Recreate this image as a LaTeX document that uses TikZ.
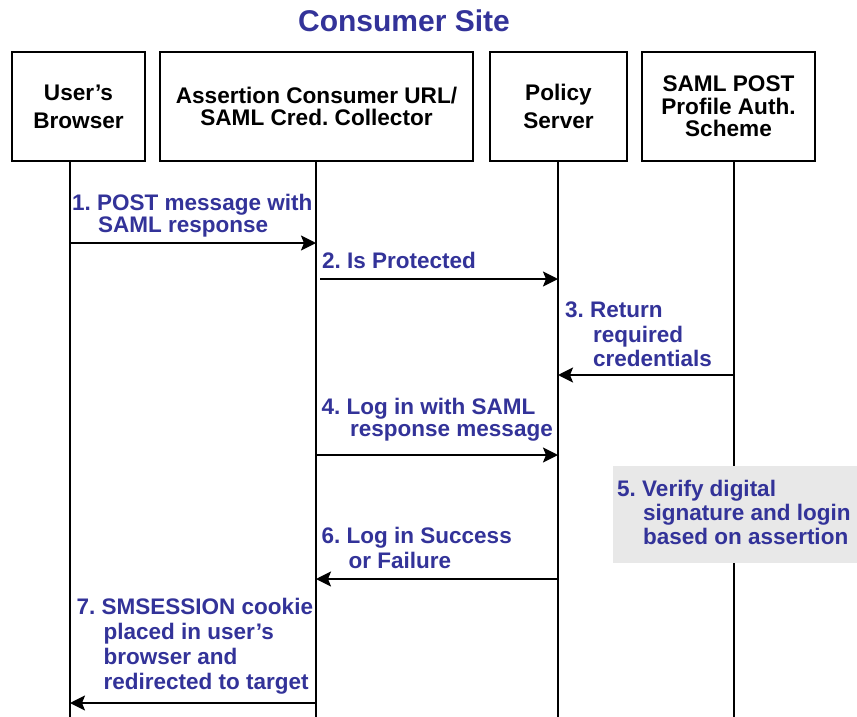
\documentclass[tikz,border=0pt]{standalone}
\usepackage{fontspec}
\setmainfont{Liberation Sans}
\usetikzlibrary{arrows.meta}
\definecolor{lblblue}{RGB}{51,51,153}
\definecolor{notegray}{RGB}{232,232,232}
\frenchspacing
\begin{document}
\begin{tikzpicture}[x=1pt,y=-1pt,
  actor/.style={draw, line width=1.8pt, inner sep=0pt, minimum height=109pt, align=center},
  life/.style={line width=1.6pt},
  msg/.style={line width=2pt, -{Stealth[length=15pt,width=15pt,inset=3pt]}},
  lbl/.style={anchor=base west, inner sep=0pt, align=left, text=lblblue},
  lblfont/.style={font=\bfseries\fontsize{22.5}{#1}\selectfont},
  boxfont/.style={font=\bfseries\fontsize{22.6}{#1}\selectfont}
]
\useasboundingbox (0,0) rectangle (857,717);
\fill[white] (0,0) rectangle (857,717);

% title
\node[anchor=base, inner sep=0pt, text=lblblue, font=\bfseries\fontsize{30}{36}\selectfont] (title) at (404,32) {Consumer Site};

% actor boxes
\node[actor, boxfont=28.3, minimum width=133pt] (b1) at (78.5,106.5) {User's\\Browser};
\node[actor, boxfont=22.3, minimum width=313pt] (b2) at (316.5,106.5) {Assertion Consumer URL/\\SAML Cred. Collector};
\node[actor, boxfont=28.3, minimum width=137pt] (b3) at (558.5,106.5) {Policy\\Server};
\node[actor, boxfont=22.5, minimum width=173pt] (b4) at (728.5,106.5) {SAML POST\\Profile Auth.\\Scheme};

% lifeline coordinates
\coordinate (l1t) at (70,161);  \coordinate (l1b) at (70,717);
\coordinate (l2t) at (316,161); \coordinate (l2b) at (316,717);
\coordinate (l3t) at (558,161); \coordinate (l3b) at (558,717);
\coordinate (l4t) at (734,161); \coordinate (l4b) at (734,717);
\draw[life] (l1t) -- (l1b);
\draw[life] (l2t) -- (l2b);
\draw[life] (l3t) -- (l3b);
\draw[life] (l4t) -- (l4b);

% note box for step 5
\fill[notegray] (613,466) rectangle (857,563);

% message end points
\coordinate (m1a) at (70,243);  \coordinate (m1b) at (316,243);
\coordinate (m2a) at (320,279); \coordinate (m2b) at (558,279);
\coordinate (m3a) at (734,375); \coordinate (m3b) at (558,375);
\coordinate (m4a) at (316,455); \coordinate (m4b) at (558,455);
\coordinate (m6a) at (558,579); \coordinate (m6b) at (316,579);
\coordinate (m7a) at (316,703); \coordinate (m7b) at (70,703);

\draw[msg] (m1a) -- (m1b);
\draw[msg] (m2a) -- (m2b);
\draw[msg] (m3a) -- (m3b);
\draw[msg] (m4a) -- (m4b);
\draw[msg] (m6a) -- (m6b);
\draw[msg] (m7a) -- (m7b);

% labels (positioned at the baseline of their last line)
\node[lbl, lblfont=21.6] (t1) at (72,232.3) {1. POST message with\\\hspace*{26pt}SAML response};
\node[lbl, lblfont=24] (t2) at (322,268.3) {2. Is Protected};
\node[lbl, lblfont=24.5] (t3) at (565,366.7) {3. Return\\\hspace*{28pt}required\\\hspace*{28pt}credentials};
\node[lbl, lblfont=22] (t4) at (321.5,436.7) {4. Log in with SAML\\\hspace*{28.5pt}response message};
\node[lbl, lblfont=24] (t5) at (617,544) {5. Verify digital\\\hspace*{26pt}signature and login\\\hspace*{26pt}based on assertion};
\node[lbl, lblfont=25] (t6) at (321.5,568.3) {6. Log in Success\\\hspace*{27pt}or Failure};
\node[lbl, lblfont=24.8] (t7) at (76.5,689.3) {7. SMSESSION cookie\\\hspace*{27pt}placed in user's\\\hspace*{27pt}browser and\\\hspace*{27pt}redirected to target};
\end{tikzpicture}
\end{document}
